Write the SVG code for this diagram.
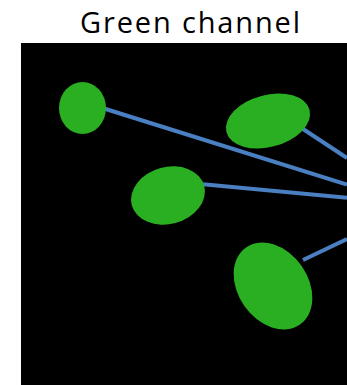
<svg xmlns="http://www.w3.org/2000/svg" width="347" height="385" viewBox="0 0 347 385">
<style>
.n{fill:#2aae22}
.c{stroke:#4a7fc1;stroke-width:4;fill:none}
.t{font-family:"Open Sans","Noto Sans","Liberation Sans",sans-serif;font-size:29px;fill:#000}
</style>
<rect x="0" y="0" width="347" height="385" fill="#fff"/>
<text class="t" x="190" y="33" text-anchor="middle" textLength="220" lengthAdjust="spacing">Green channel</text>
<rect x="21" y="43" width="326" height="342" fill="#000"/>
<g id="connectors">
<line class="c" x1="104" y1="108.5" x2="347" y2="184.5"/>
<line class="c" x1="301.5" y1="128" x2="347" y2="158"/>
<line class="c" x1="203" y1="184.3" x2="347" y2="197.7"/>
<line class="c" x1="303" y1="260" x2="347" y2="239"/>
</g>
<g id="node1"><ellipse class="n" cx="82.5" cy="108" rx="23.5" ry="26"/></g>
<g id="node2"><ellipse class="n" cx="268" cy="121" rx="43" ry="26" transform="rotate(-15 268 121)"/></g>
<g id="node3"><ellipse class="n" cx="168" cy="195.5" rx="37.5" ry="28.5" transform="rotate(-15 168 195.5)"/></g>
<g id="node4"><ellipse class="n" cx="273" cy="286" rx="47" ry="35" transform="rotate(55 273 286)"/></g>
</svg>
